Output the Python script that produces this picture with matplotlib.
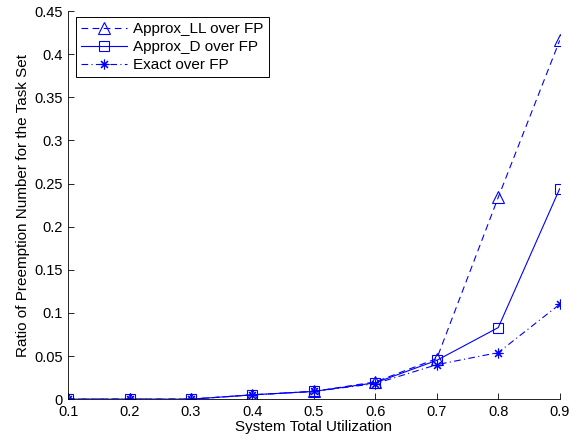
import matplotlib
matplotlib.use('Agg')
import matplotlib.pyplot as plt

plt.rcParams['font.family'] = ['Liberation Sans', 'DejaVu Sans']
plt.rcParams['font.size'] = 10

utilization = [0.1, 0.2, 0.3, 0.4, 0.5, 0.6, 0.7, 0.8, 0.9]
approx_ll = [0.0, 0.0, 0.0, 0.005, 0.009, 0.020, 0.047, 0.234, 0.416]
approx_d = [0.0, 0.0, 0.0, 0.005, 0.009, 0.019, 0.045, 0.083, 0.244]
exact = [0.0, 0.0, 0.0, 0.005, 0.009, 0.018, 0.040, 0.054, 0.110]

fig = plt.figure(figsize=(5.77, 4.44), dpi=100)
ax = fig.add_axes([0.118, 0.101, 0.852, 0.874])

blue = (0, 0, 1)
ax.plot(utilization, approx_ll, color=blue, ls=(0, (6, 4)), lw=0.8,
        marker='^', ms=8, mfc='none', mec=blue, mew=0.8, label='Approx_LL over FP')
ax.plot(utilization, approx_d, color=blue, ls='-', lw=0.8,
        marker='s', ms=6.5, mfc='none', mec=blue, mew=0.8, label='Approx_D over FP')
ax.plot(utilization, exact, color=blue, ls=(0, (6, 3, 1, 3)), lw=0.8,
        marker=(8, 2, 0), ms=7, mec=blue, mew=0.8, label='Exact over FP')

ax.set_xlim(0.1, 0.9)
ax.set_ylim(0, 0.45)
ax.set_xticks(utilization)
ax.set_xticklabels(['0.1', '0.2', '0.3', '0.4', '0.5', '0.6', '0.7', '0.8', '0.9'])
ax.set_yticks([0, 0.05, 0.1, 0.15, 0.2, 0.25, 0.3, 0.35, 0.4, 0.45])
ax.set_yticklabels(['0', '0.05', '0.1', '0.15', '0.2', '0.25', '0.3', '0.35', '0.4', '0.45'])
ax.tick_params(direction='in', length=4, width=0.6, pad=4, labelsize=10.5)
ax.spines['top'].set_visible(False)
ax.spines['right'].set_visible(False)
for s in ('left', 'bottom'):
    ax.spines[s].set_linewidth(0.6)

ax.set_xlabel('System Total Utilization', fontsize=11, labelpad=1)
ax.set_ylabel('Ratio of Preemption Number for the Task Set', fontsize=11, labelpad=3)

leg = ax.legend(loc='upper left', bbox_to_anchor=(0.016, 0.985), fancybox=False,
                edgecolor='black', framealpha=1, borderpad=0.35, labelspacing=0.25,
                handlelength=3.0, handletextpad=0.4, borderaxespad=0, fontsize=11)
leg.get_frame().set_linewidth(0.7)

fig.savefig('out.png', dpi=100)
